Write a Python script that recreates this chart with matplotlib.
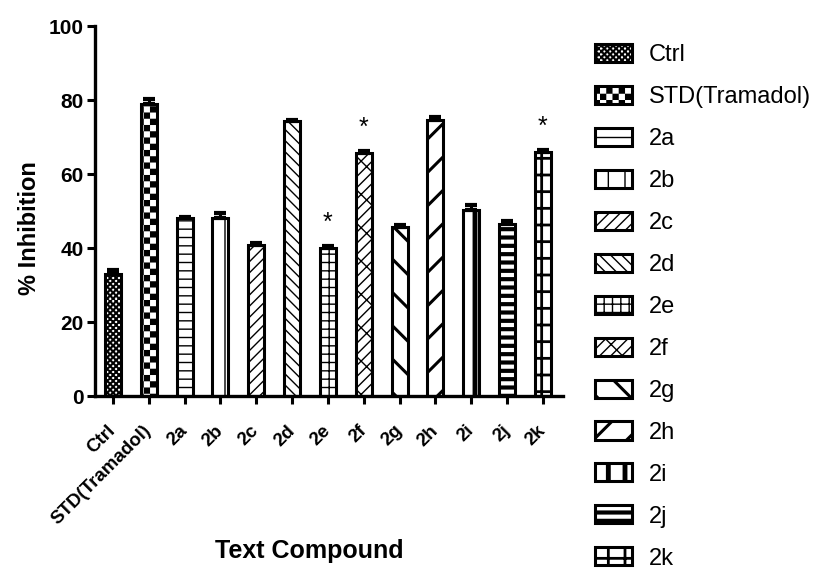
import warnings
warnings.filterwarnings("ignore")
import numpy as np
import matplotlib
matplotlib.use("Agg")
import matplotlib.pyplot as plt
import matplotlib.hatch as mhatch
import matplotlib.transforms as mtrans
from matplotlib.path import Path

# ---------------- data ----------------
categories = ["Ctrl", "STD(Tramadol)", "2a", "2b", "2c", "2d", "2e", "2f",
              "2g", "2h", "2i", "2j", "2k"]
values = [33.0, 79.0, 48.0, 48.0, 40.7, 74.2, 40.0, 65.6, 45.6, 74.6, 50.3, 46.4, 66.0]
errors = [1.0, 1.2, 0.5, 1.5, 0.7, 0.5, 0.5, 0.5, 0.5, 0.7, 1.3, 1.0, 0.5]
significant = ["2e", "2f", "2k"]
y_ticks = [0, 20, 40, 60, 80, 100]

# ---------------- custom checker hatches ----------------
def make_checker(char, ncells):
    class Checker(mhatch.HatchPatternBase):
        filled = True

        def __init__(self, hatch, density):
            self.on = hatch is not None and char in hatch
            self.num_vertices = (ncells * ncells // 2) * 5 if self.on else 0

        def set_vertices_and_codes(self, vertices, codes):
            s = 1.0 / ncells
            k = 0
            for i in range(ncells):
                for j in range(ncells):
                    if (i + j) % 2 == 0:
                        x0, y0 = i * s, j * s
                        vertices[k:k + 5] = [(x0, y0), (x0 + s, y0), (x0 + s, y0 + s),
                                             (x0, y0 + s), (x0, y0)]
                        codes[k:k + 5] = [Path.MOVETO, Path.LINETO, Path.LINETO,
                                          Path.LINETO, Path.CLOSEPOLY]
                        k += 5
    return Checker

mhatch._hatch_types.append(make_checker("c", 16))
mhatch._hatch_types.append(make_checker("k", 34))

hatches = ["k", "c", "--", "|", "///", "\\\\\\", "++", "///\\",
           "\\", "/", "|", "--", "+"]
hatch_lw = [0.6, 0.05, 1.0, 1.0, 1.0, 1.0, 1.0, 1.0, 2.2, 2.2, 3.5, 3.0, 2.0]

plt.rcParams["font.family"] = ["Liberation Sans", "DejaVu Sans"]

fig = plt.figure(figsize=(8.19, 5.69), dpi=100)
ax = fig.add_axes([95 / 819, 1 - 396 / 569, (563 - 95) / 819, (396 - 26) / 569])

x = np.arange(len(categories))
bars = []
for i in range(len(categories)):
    with plt.rc_context({"hatch.linewidth": hatch_lw[i]}):
        b = ax.bar(x[i], values[i], width=0.45, facecolor="white", edgecolor="black",
                   linewidth=2.2, hatch=hatches[i], label=categories[i], zorder=2)
    for p in b:
        if hasattr(p, "set_hatch_linewidth"):
            p.set_hatch_linewidth(hatch_lw[i])
    bars.append(b)

ax.errorbar(x, values, yerr=[np.zeros(len(values)), errors], fmt="none",
            ecolor="black", elinewidth=2.2, capsize=4, capthick=3, zorder=3)

for i, c in enumerate(categories):
    if c in significant:
        ax.text(x[i], values[i] + errors[i] + 6.3, "*", ha="center", va="center",
                fontsize=18, color="black")

ax.set_xlim(-0.5, 12.56)
ax.set_ylim(0, 100)
ax.set_yticks(y_ticks)
ax.set_yticklabels([str(v) for v in y_ticks], fontsize=15, fontweight="bold")
ax.set_xticks(x)
ax.set_xticklabels(categories, rotation=45, ha="right", va="center",
                   rotation_mode="anchor", fontsize=13.5, fontweight="bold")
shift = mtrans.ScaledTranslation(4 / 72, 0, fig.dpi_scale_trans)
for lab in ax.get_xticklabels():
    lab.set_transform(lab.get_transform() + shift)
ax.tick_params(axis="both", direction="out", length=6, width=2.2, color="black")
ax.tick_params(axis="x", pad=17)
ax.tick_params(axis="y", pad=2)
for s in ["top", "right"]:
    ax.spines[s].set_visible(False)
for s in ["left", "bottom"]:
    ax.spines[s].set_linewidth(2.4)

ax.set_ylabel("% Inhibition", fontsize=17, fontweight="bold")
ax.yaxis.set_label_coords(-0.115, 0.455)
fig.text(309 / 819, 1 - 551 / 569, "Text Compound", ha="center", va="center",
         fontsize=18, fontweight="bold")

leg = ax.legend(loc="upper left", bbox_to_anchor=(1.024, 1.009), frameon=False,
                fontsize=17, handlelength=1.53, handleheight=0.8,
                labelspacing=0.835, handletextpad=0.72, borderpad=0.4)
for h, lw in zip(leg.legend_handles, hatch_lw):
    h.set_linewidth(2.2)
    if hasattr(h, "set_hatch_linewidth"):
        h.set_hatch_linewidth(lw)

fig.savefig("out.png", dpi=100)
